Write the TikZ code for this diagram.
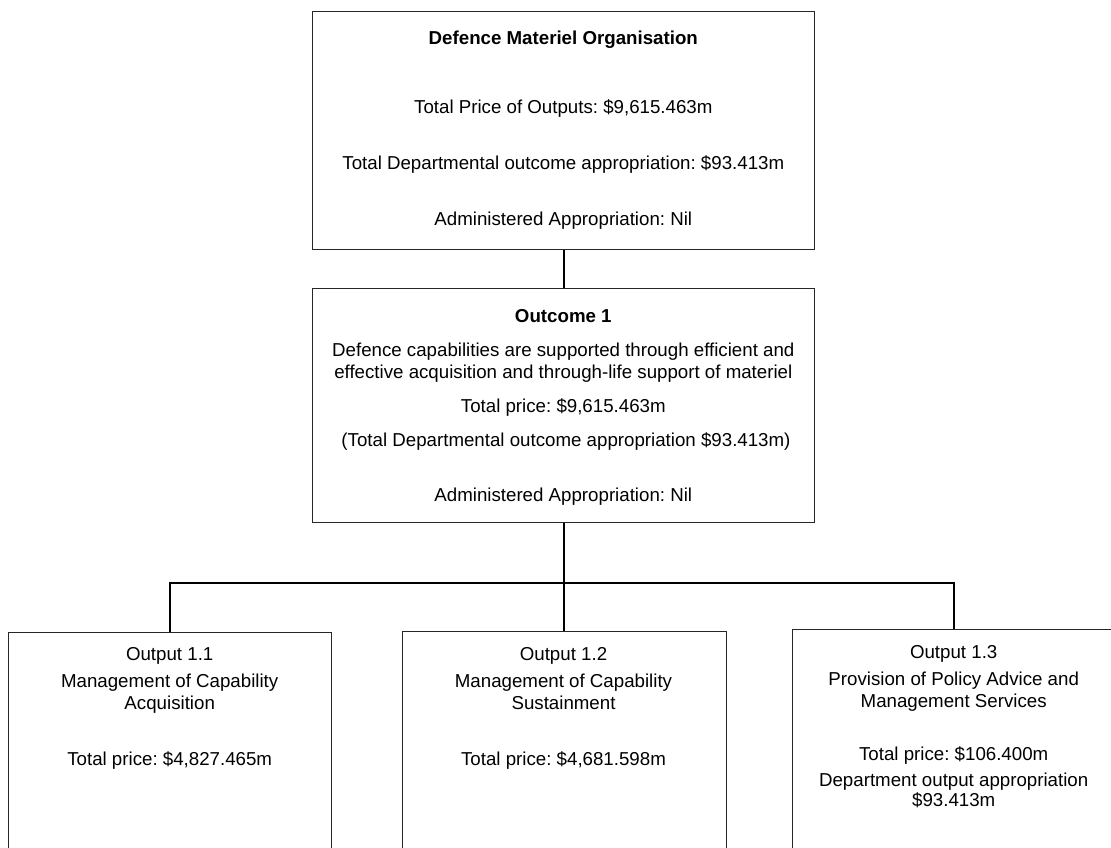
\documentclass[tikz,border=0pt]{standalone}
\usepackage{fontspec}
\setmainfont{Liberation Sans}
\frenchspacing
\begin{document}
\begin{tikzpicture}[x=1pt,y=-1pt,
  box/.style={draw=black!85,line width=1.1pt,rectangle,inner sep=0pt,anchor=north west},
  conn/.style={draw=black,line width=1.7pt},
  txt/.style={anchor=base,inner sep=0pt,font=\fontsize{18.7}{22}\selectfont},
  btxt/.style={txt,font=\fontsize{18.7}{22}\selectfont\bfseries}]
\useasboundingbox (0,0) rectangle (1111,848);
\clip (0,0) rectangle (1111,848);
\fill[white] (0,0) rectangle (1111,848);
% boxes
\node[box,minimum width=502pt,minimum height=238.6pt] (top) at (312.3,10.7) {};
\node[box,minimum width=502pt,minimum height=233.7pt] (mid) at (312.3,288.3) {};
\node[box,minimum width=322.7pt,minimum height=240pt] (b1) at (8.3,631.7) {};
\node[box,minimum width=324pt,minimum height=240pt] (b2) at (401.5,631) {};
\node[box,minimum width=400pt,minimum height=240pt] (b3) at (792.3,629.3) {};
% connectors
\coordinate (bus) at (563.3,583);
\coordinate (j1) at (169.7,583);
\coordinate (j3) at (953.7,583);
\draw[conn] (top.south) -- (mid.north);
\draw[conn] (mid.south) -- (mid.south |- b2.north);
\draw[conn] (j1 |- b1.north) -- (j1) -- (j3) -- (j3 |- b3.north);
% top box text
\node[btxt] (t0) at (563.3,45) {Defence Materiel Organisation};
\node[txt] (t1) at (563.3,113.3) {Total Price of Outputs: \$9,615.463m};
\node[txt] (t2) at (563.3,169) {Total Departmental outcome appropriation: \$93.413m};
\node[txt] (t3) at (563.3,225) {Administered Appropriation: Nil};
% middle box text
\node[btxt] (m0) at (563.3,322) {Outcome 1};
\node[txt] (m1) at (563.3,356.7) {Defence capabilities are supported through efficient and};
\node[txt] (m2) at (563.3,378.3) {effective acquisition and through-life support of materiel};
\node[txt] (m3) at (563.3,412) {Total price: \$9,615.463m};
\node[txt] (m4) at (566,446) {(Total Departmental outcome appropriation \$93.413m)};
\node[txt] (m5) at (563.3,501.7) {Administered Appropriation: Nil};
% output 1.1
\node[txt] (a0) at (169.7,660.7) {Output 1.1};
\node[txt] (a1) at (169.7,687.7) {Management of Capability};
\node[txt] (a2) at (169.7,709.3) {Acquisition};
\node[txt] (a3) at (169.7,765) {Total price: \$4,827.465m};
% output 1.2
\node[txt] (d0) at (563.5,660.7) {Output 1.2};
\node[txt] (d1) at (563.5,687.7) {Management of Capability};
\node[txt] (d2) at (563.5,709.3) {Sustainment};
\node[txt] (d3) at (563.5,765) {Total price: \$4,681.598m};
% output 1.3
\node[txt] (c0) at (953.7,658.3) {Output 1.3};
\node[txt] (c1) at (953.7,685.7) {Provision of Policy Advice and};
\node[txt] (c2) at (953.7,707.3) {Management Services};
\node[txt] (c3) at (953.7,760) {Total price: \$106.400m};
\node[txt] (c4) at (953.7,786.7) {Department output appropriation};
\node[txt] (c5) at (953.7,806.7) {\$93.413m};
\end{tikzpicture}
\end{document}
